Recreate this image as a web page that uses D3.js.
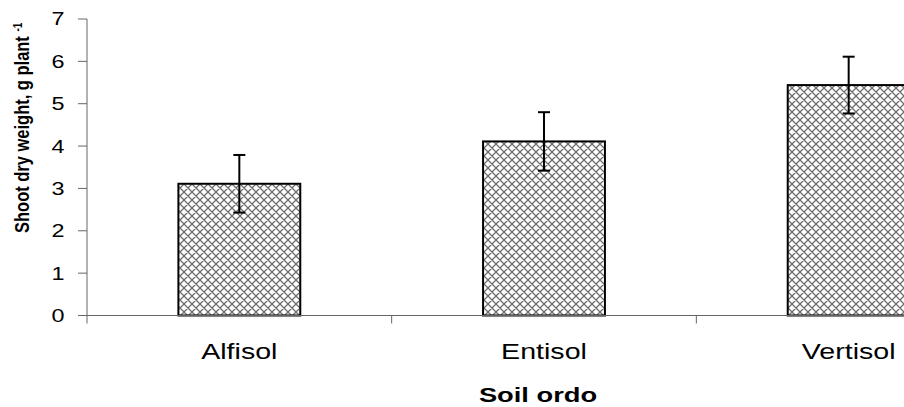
<!DOCTYPE html>
<html>
<head>
<meta charset="utf-8">
<script src="https://cdn.jsdelivr.net/npm/d3@7"></script>
<style>
  body { margin: 0; background: #fff; }
  svg { display: block; }
  text { font-family: "Liberation Sans", Arial, sans-serif; fill: #000; }
</style>
</head>
<body>
<div id="chart"></div>
<script>
var soils = ['Alfisol', 'Entisol', 'Vertisol']
var weight = [3.11, 4.11, 5.44]
var stderr = [0.68, 0.69, 0.67]
var yTicks = [0, 1, 2, 3, 4, 5, 6, 7]

var w = 904
var h = 407
var sx = 1.3   // the picture is stretched sideways

var svg = d3.select('#chart').append('svg')
  .attr('width', w)
  .attr('height', h)

// cross hatch fill
var pat = svg.append('defs').append('pattern')
  .attr('id', 'hatch')
  .attr('patternUnits', 'userSpaceOnUse')
  .attr('width', 8)
  .attr('height', 8)
pat.append('rect').attr('width', 8).attr('height', 8).attr('fill', '#fff')
pat.append('path')
  .attr('d', 'M0,0L8,8M8,0L0,8M-1,7L1,9M7,-1L9,1M-1,1L1,-1M7,9L9,7')
  .attr('stroke', '#6e6e6e')
  .attr('stroke-width', 1.3)

var x = d3.scaleBand().domain(soils).range([87, 1001])
var y = d3.scaleLinear().domain([0, 7]).range([315.5, 19])
var barW = x.bandwidth() * 0.4

// bars
svg.selectAll('.bar').data(soils).enter().append('rect')
  .attr('class', 'bar')
  .attr('x', function (d) { return x(d) + (x.bandwidth() - barW) / 2 })
  .attr('y', function (d, i) { return y(weight[i]) })
  .attr('width', barW)
  .attr('height', function (d, i) { return y(0) - y(weight[i]) })
  .attr('fill', 'url(#hatch)')
  .attr('stroke', '#000')
  .attr('stroke-width', 2)

// error bars
var eb = svg.selectAll('.err').data(soils).enter().append('g')
  .attr('class', 'err')
  .attr('stroke', '#000')
  .attr('stroke-width', 2)
eb.append('line')
  .attr('x1', function (d) { return x(d) + x.bandwidth() / 2 })
  .attr('x2', function (d) { return x(d) + x.bandwidth() / 2 })
  .attr('y1', function (d, i) { return y(weight[i] + stderr[i]) })
  .attr('y2', function (d, i) { return y(weight[i] - stderr[i]) })
eb.selectAll('.cap').data(function (d, i) {
    return [weight[i] + stderr[i], weight[i] - stderr[i]].map(function (v) { return { c: d, v: v } })
  }).enter().append('line')
  .attr('x1', function (d) { return x(d.c) + x.bandwidth() / 2 - 6 })
  .attr('x2', function (d) { return x(d.c) + x.bandwidth() / 2 + 6 })
  .attr('y1', function (d) { return y(d.v) })
  .attr('y2', function (d) { return y(d.v) })

// axes
var axisCol = '#666'
svg.append('line')
  .attr('x1', 87).attr('x2', 87)
  .attr('y1', y(7)).attr('y2', y(0) + 8)
  .attr('stroke', axisCol)
svg.append('line')
  .attr('x1', 87).attr('x2', 1001)
  .attr('y1', y(0)).attr('y2', y(0))
  .attr('stroke', axisCol)

svg.selectAll('.ytick').data(yTicks).enter().append('line')
  .attr('x1', 78).attr('x2', 87)
  .attr('y1', function (d) { return y(d) })
  .attr('y2', function (d) { return y(d) })
  .attr('stroke', axisCol)

svg.selectAll('.xtick').data(soils.slice(1)).enter().append('line')
  .attr('x1', function (d) { return x(d) })
  .attr('x2', function (d) { return x(d) })
  .attr('y1', y(0)).attr('y2', y(0) + 8)
  .attr('stroke', axisCol)

// tick labels
svg.selectAll('.ylab').data(yTicks).enter().append('g')
  .attr('transform', function (d) { return 'translate(64.5,' + y(d) + ') scale(' + sx + ',1)' })
  .append('text')
  .attr('text-anchor', 'end')
  .attr('dy', '0.36em')
  .style('font-size', '18px')
  .text(function (d) { return d })

svg.selectAll('.xlab').data(soils).enter().append('g')
  .attr('transform', function (d) { return 'translate(' + (x(d) + x.bandwidth() / 2) + ',359) scale(' + sx + ',1)' })
  .append('text')
  .attr('text-anchor', 'middle')
  .style('font-size', '22px')
  .text(function (d) { return d })

// axis titles
svg.append('g')
  .attr('transform', 'translate(538,401.5) scale(' + sx + ',1)')
  .append('text')
  .attr('text-anchor', 'middle')
  .style('font-size', '21px')
  .style('font-weight', 'bold')
  .text('Soil ordo')

var yt = svg.append('g')
  .attr('transform', 'translate(29,233) rotate(-90) scale(1,1.25)')
  .append('text')
  .attr('text-anchor', 'start')
  .style('font-size', '16.5px')
  .style('font-weight', 'bold')
yt.append('tspan').text('Shoot dry weight, g plant ')
yt.append('tspan').attr('dy', -6).style('font-size', '10px').text('-1')
</script>
</body>
</html>
